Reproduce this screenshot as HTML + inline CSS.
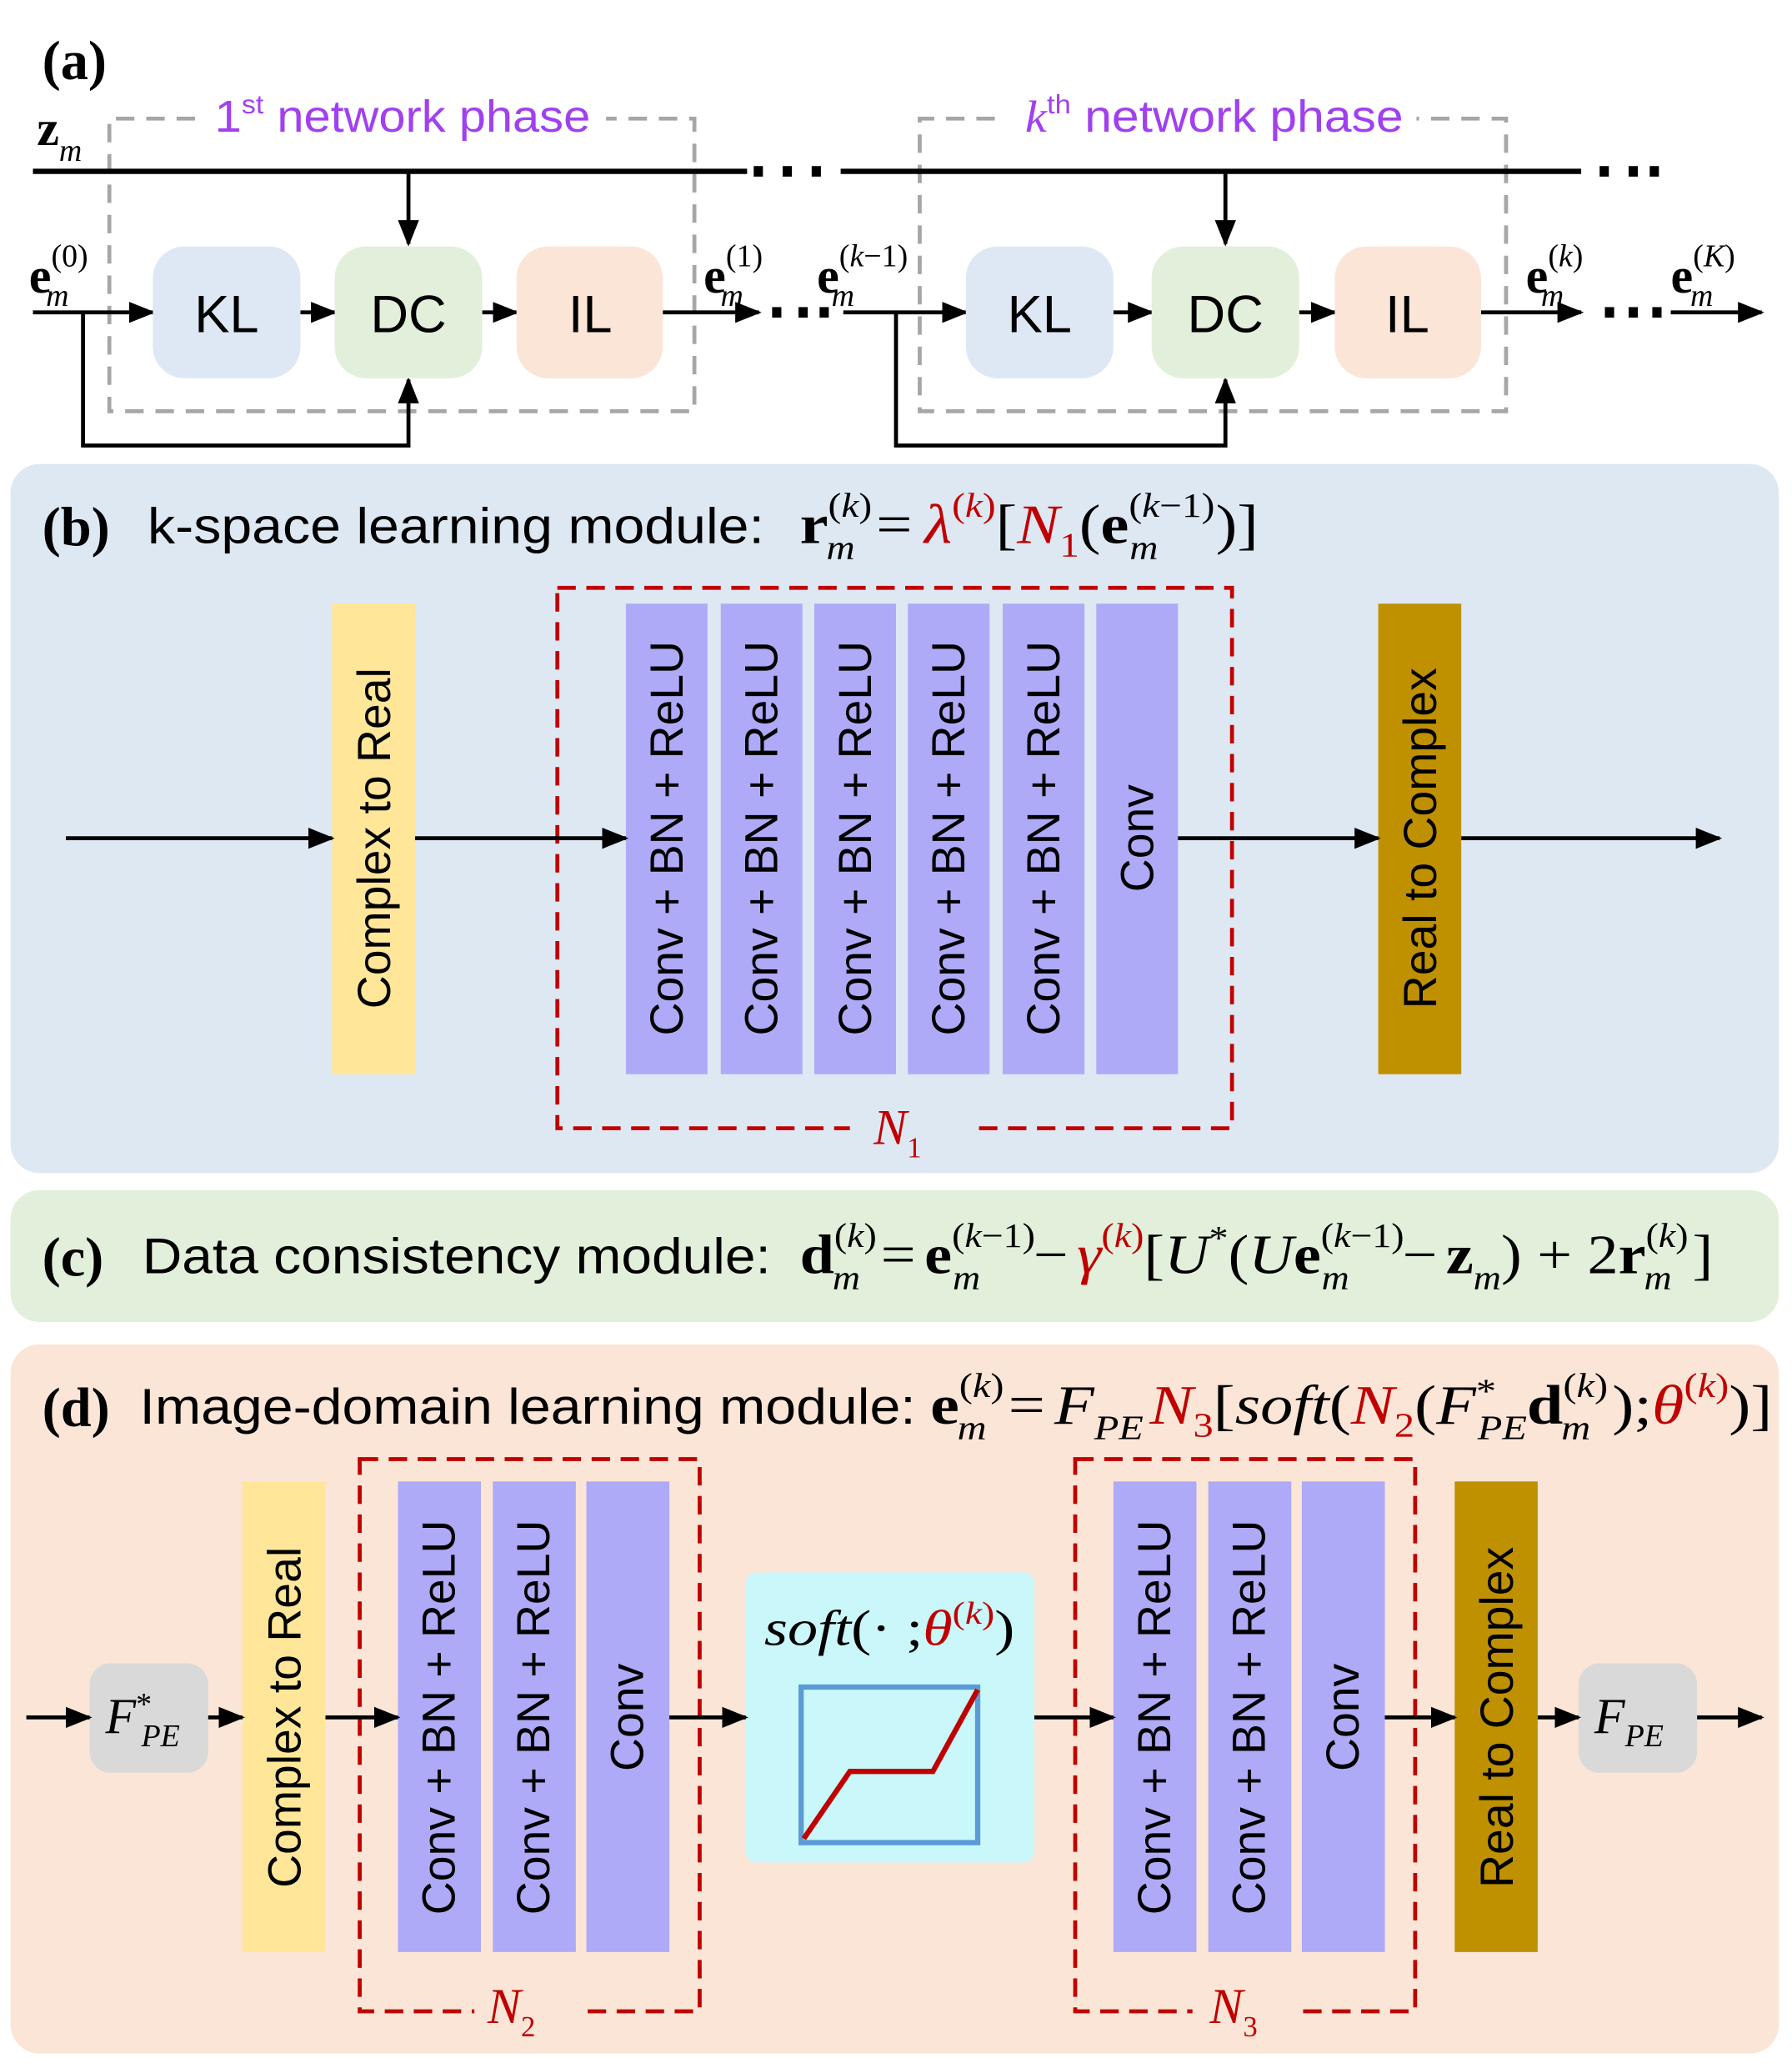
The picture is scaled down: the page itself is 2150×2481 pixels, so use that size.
<!DOCTYPE html>
<html><head><meta charset="utf-8"><style>
html,body{margin:0;padding:0;background:#fff}
svg{display:block}
.s{font-family:"Liberation Sans",sans-serif}
.r{font-family:"Liberation Serif",serif}
</style></head><body>
<svg width="2150" height="2481" viewBox="0 0 1360 1569" preserveAspectRatio="none" xmlns="http://www.w3.org/2000/svg">
<defs>
<marker id="ab" markerWidth="20" markerHeight="16" refX="18" refY="8" orient="auto" markerUnits="userSpaceOnUse"><path d="M0,0 L20,8 L0,16 Z" fill="#000"/></marker>
</defs>
<!-- (a) -->
<text x="32" y="60" class="r" font-size="42" font-weight="bold">(a)</text>
<g fill="none" stroke="#a6a6a6" stroke-width="3" stroke-dasharray="14,9">
<path d="M148,90 H83 V312 H527 V90 H460"/>
<path d="M755,90 H698 V312 H1143 V90 H1075"/>
</g>
<text x="163" y="100" class="s" font-size="34" fill="#a040f0" textLength="285" lengthAdjust="spacingAndGlyphs">1<tspan font-size="20" dy="-14">st</tspan><tspan dy="14"> network phase</tspan></text>
<text x="778" y="100" class="s" font-size="34" fill="#a040f0" textLength="287" lengthAdjust="spacingAndGlyphs"><tspan class="r" font-style="italic">k</tspan><tspan font-size="20" dy="-14">th</tspan><tspan dy="14"> network phase</tspan></text>
<text x="28" y="110" class="r" font-size="38" font-weight="bold">z<tspan font-size="24" font-style="italic" font-weight="normal" dy="12">m</tspan></text>
<g stroke="#000" stroke-width="4" fill="none">
<path d="M25,130 H567"/><path d="M638,130 H1200"/>
</g>
<g fill="#000">
<rect x="572" y="126" width="7" height="8"/><rect x="594" y="126" width="7" height="8"/><rect x="616" y="126" width="7" height="8"/>
<rect x="1214" y="126" width="7" height="8"/><rect x="1236" y="126" width="7" height="8"/><rect x="1252" y="126" width="7" height="8"/>
<rect x="586" y="233" width="7" height="8"/><rect x="606" y="233" width="7" height="8"/><rect x="622" y="233" width="7" height="8"/>
<rect x="1218" y="233" width="7" height="8"/><rect x="1236" y="233" width="7" height="8"/><rect x="1254" y="233" width="7" height="8"/>
</g>
<g stroke="#000" stroke-width="3" fill="none" marker-end="url(#ab)">
<path d="M310,130 V185"/><path d="M930,130 V185"/>
<path d="M25,237 H116"/><path d="M228,237 H254"/><path d="M366,237 H392"/><path d="M503,237 H576"/>
<path d="M640,237 H733"/><path d="M845,237 H874"/><path d="M986,237 H1013"/><path d="M1124,237 H1200"/>
<path d="M1268,237 H1337"/>
<path d="M63,237 V338 H310 V288"/><path d="M680,237 V338 H930 V288"/>
</g>
<g class="s" font-size="40" text-anchor="middle">
<rect x="116" y="187" width="112" height="100" rx="24" fill="#dde8f4"/><text x="172" y="252">KL</text>
<rect x="254" y="187" width="112" height="100" rx="24" fill="#e2efda"/><text x="310" y="252">DC</text>
<rect x="392" y="187" width="111" height="100" rx="24" fill="#fbe5d6"/><text x="448" y="252">IL</text>
<rect x="733" y="187" width="112" height="100" rx="24" fill="#dde8f4"/><text x="789" y="252">KL</text>
<rect x="874" y="187" width="112" height="100" rx="24" fill="#e2efda"/><text x="930" y="252">DC</text>
<rect x="1013" y="187" width="111" height="100" rx="24" fill="#fbe5d6"/><text x="1068" y="252">IL</text>
</g>
<g class="r" font-size="38" font-weight="bold">
<text x="22" y="222">e<tspan font-size="24" font-weight="normal" dy="-20">(0)</tspan><tspan font-size="24" font-style="italic" font-weight="normal" dx="-32" dy="30">m</tspan></text>
<text x="534" y="222">e<tspan font-size="24" font-weight="normal" dy="-20">(1)</tspan><tspan font-size="24" font-style="italic" font-weight="normal" dx="-32" dy="30">m</tspan></text>
<text x="620" y="222">e<tspan font-size="24" font-weight="normal" dy="-20">(<tspan font-style="italic">k</tspan>−1)</tspan><tspan font-size="24" font-style="italic" font-weight="normal" dx="-58" dy="30">m</tspan></text>
<text x="1158" y="222">e<tspan font-size="24" font-weight="normal" dy="-20">(<tspan font-style="italic">k</tspan>)</tspan><tspan font-size="24" font-style="italic" font-weight="normal" dx="-32" dy="30">m</tspan></text>
<text x="1268" y="222">e<tspan font-size="24" font-weight="normal" dy="-20">(<tspan font-style="italic">K</tspan>)</tspan><tspan font-size="24" font-style="italic" font-weight="normal" dx="-34" dy="30">m</tspan></text>
</g>
<!-- (b) -->
<rect x="8" y="352" width="1342" height="538" rx="22" fill="#dee8f3"/>
<text x="32" y="414" class="r" font-size="42" font-weight="bold">(b)</text>
<text x="112" y="412" class="s" font-size="38" textLength="468" lengthAdjust="spacingAndGlyphs">k-space learning module:</text>
<text x="607" y="412" class="r" font-size="42" textLength="348" lengthAdjust="spacingAndGlyphs"><tspan font-weight="bold">r</tspan><tspan font-size="26" dy="-20">(<tspan font-style="italic">k</tspan>)</tspan><tspan font-size="26" font-style="italic" dx="-30" dy="32">m</tspan><tspan dx="14" dy="-12">=</tspan><tspan fill="#c00000" font-style="italic" dx="8">λ</tspan><tspan fill="#c00000" font-size="26" dy="-20">(<tspan font-style="italic">k</tspan>)</tspan><tspan dy="20">[</tspan><tspan fill="#c00000" font-style="italic">N</tspan><tspan fill="#c00000" font-size="26" dy="10">1</tspan><tspan dy="-10">(</tspan><tspan font-weight="bold">e</tspan><tspan font-size="26" dy="-20">(<tspan font-style="italic">k</tspan>−1)</tspan><tspan font-size="26" font-style="italic" dx="-56" dy="32">m</tspan><tspan dx="38" dy="-12">)]</tspan></text>
<rect x="252" y="458" width="63" height="357" fill="#ffe699"/>
<rect x="1046" y="458" width="63" height="357" fill="#bf9000"/>
<g fill="#aeaaf7">
<rect x="475" y="458" width="62" height="357"/><rect x="547" y="458" width="62" height="357"/><rect x="618" y="458" width="62" height="357"/>
<rect x="689" y="458" width="62" height="357"/><rect x="761" y="458" width="62" height="357"/><rect x="832" y="458" width="62" height="357"/>
</g>
<rect x="423" y="446" width="512" height="410" fill="none" stroke="#c00000" stroke-width="3" stroke-dasharray="14,8"/>
<rect x="645" y="840" width="90" height="40" fill="#dee8f3"/>
<text x="663" y="868" class="r" font-size="38" font-style="italic" fill="#c00000">N<tspan font-size="22" font-style="normal" dy="10">1</tspan></text>
<g class="s" font-size="35" text-anchor="middle">
<text transform="translate(296,636) rotate(-90)">Complex to Real</text>
<text transform="translate(1090,636) rotate(-90)">Real to Complex</text>
<text transform="translate(518,636) rotate(-90)">Conv + BN + ReLU</text>
<text transform="translate(590,636) rotate(-90)">Conv + BN + ReLU</text>
<text transform="translate(661,636) rotate(-90)">Conv + BN + ReLU</text>
<text transform="translate(732,636) rotate(-90)">Conv + BN + ReLU</text>
<text transform="translate(804,636) rotate(-90)">Conv + BN + ReLU</text>
<text transform="translate(875,636) rotate(-90)">Conv</text>
</g>
<g stroke="#000" stroke-width="3" marker-end="url(#ab)">
<path d="M50,636 H252"/><path d="M315,636 H475"/><path d="M894,636 H1046"/><path d="M1109,636 H1305"/>
</g>
<!-- (c) -->
<rect x="8" y="903" width="1342" height="100" rx="22" fill="#e2efda"/>
<text x="32" y="968" class="r" font-size="42" font-weight="bold">(c)</text>
<text x="108" y="966" class="s" font-size="38" textLength="477" lengthAdjust="spacingAndGlyphs">Data consistency module:</text>
<text x="607" y="966" class="r" font-size="42" textLength="693" lengthAdjust="spacingAndGlyphs"><tspan font-weight="bold">d</tspan><tspan font-size="26" dy="-20">(<tspan font-style="italic">k</tspan>)</tspan><tspan font-size="26" font-style="italic" dx="-30" dy="32">m</tspan><tspan dx="14" dy="-12">=</tspan><tspan font-weight="bold" dx="6">e</tspan><tspan font-size="26" dy="-20">(<tspan font-style="italic">k</tspan>−1)</tspan><tspan font-size="26" font-style="italic" dx="-56" dy="32">m</tspan><tspan dx="36" dy="-12">−</tspan><tspan fill="#c00000" font-style="italic" dx="6">γ</tspan><tspan fill="#c00000" font-size="26" dy="-20">(<tspan font-style="italic">k</tspan>)</tspan><tspan dy="20">[</tspan><tspan font-style="italic">U</tspan><tspan font-size="26" dy="-18">*</tspan><tspan dy="18">(</tspan><tspan font-style="italic">U</tspan><tspan font-weight="bold">e</tspan><tspan font-size="26" dy="-20">(<tspan font-style="italic">k</tspan>−1)</tspan><tspan font-size="26" font-style="italic" dx="-56" dy="32">m</tspan><tspan dx="36" dy="-12">−</tspan><tspan font-weight="bold" dx="6">z</tspan><tspan font-size="26" font-style="italic" dy="12">m</tspan><tspan dy="-12">) + 2</tspan><tspan font-weight="bold">r</tspan><tspan font-size="26" dy="-20">(<tspan font-style="italic">k</tspan>)</tspan><tspan font-size="26" font-style="italic" dx="-30" dy="32">m</tspan><tspan dx="14" dy="-12">]</tspan></text>
<!-- (d) -->
<rect x="8" y="1020" width="1342" height="538" rx="22" fill="#fbe5d6"/>
<text x="32" y="1082" class="r" font-size="42" font-weight="bold">(d)</text>
<text x="106" y="1080" class="s" font-size="38" textLength="589" lengthAdjust="spacingAndGlyphs">Image-domain learning module:</text>
<text x="706" y="1080" class="r" font-size="42" textLength="639" lengthAdjust="spacingAndGlyphs"><tspan font-weight="bold">e</tspan><tspan font-size="26" dy="-20">(<tspan font-style="italic">k</tspan>)</tspan><tspan font-size="26" font-style="italic" dx="-30" dy="32">m</tspan><tspan dx="14" dy="-12">=</tspan><tspan font-style="italic" dx="6">F</tspan><tspan font-size="26" font-style="italic" dy="12">PE</tspan><tspan fill="#c00000" font-style="italic" dy="-12" dx="4">N</tspan><tspan fill="#c00000" font-size="26" dy="10">3</tspan><tspan dy="-10">[</tspan><tspan font-style="italic">soft</tspan>(<tspan fill="#c00000" font-style="italic">N</tspan><tspan fill="#c00000" font-size="26" dy="10">2</tspan><tspan dy="-10">(</tspan><tspan font-style="italic">F</tspan><tspan font-size="26" dy="-16">*</tspan><tspan font-size="26" font-style="italic" dx="-12" dy="28">PE</tspan><tspan font-weight="bold" dy="-12">d</tspan><tspan font-size="26" dy="-20">(<tspan font-style="italic">k</tspan>)</tspan><tspan font-size="26" font-style="italic" dx="-30" dy="32">m</tspan><tspan dx="14" dy="-12">);</tspan><tspan fill="#c00000" font-style="italic">θ</tspan><tspan fill="#c00000" font-size="26" dy="-20">(<tspan font-style="italic">k</tspan>)</tspan><tspan dy="20">)]</tspan></text>
<rect x="68" y="1262" width="90" height="83" rx="16" fill="#d9d9d9"/>
<rect x="1198" y="1262" width="90" height="83" rx="16" fill="#d9d9d9"/>
<text x="80" y="1315" class="r" font-size="38" font-style="italic">F<tspan font-size="24" font-style="normal" dy="-14">*</tspan><tspan font-size="24" dx="-8" dy="24">PE</tspan></text>
<text x="1210" y="1315" class="r" font-size="38" font-style="italic">F<tspan font-size="24" dy="10">PE</tspan></text>
<rect x="184" y="1124" width="63" height="357" fill="#ffe699"/>
<rect x="1104" y="1124" width="63" height="357" fill="#bf9000"/>
<g fill="#aeaaf7">
<rect x="302" y="1124" width="63" height="357"/><rect x="374" y="1124" width="63" height="357"/><rect x="445" y="1124" width="63" height="357"/>
<rect x="845" y="1124" width="63" height="357"/><rect x="917" y="1124" width="63" height="357"/><rect x="988" y="1124" width="63" height="357"/>
</g>
<g fill="none" stroke="#c00000" stroke-width="3" stroke-dasharray="14,8">
<rect x="273" y="1107" width="258" height="419"/><rect x="816" y="1107" width="258" height="419"/>
</g>
<rect x="360" y="1508" width="80" height="40" fill="#fbe5d6"/>
<rect x="905" y="1508" width="80" height="40" fill="#fbe5d6"/>
<text x="370" y="1535" class="r" font-size="38" font-style="italic" fill="#c00000">N<tspan font-size="22" font-style="normal" dy="10">2</tspan></text>
<text x="918" y="1535" class="r" font-size="38" font-style="italic" fill="#c00000">N<tspan font-size="22" font-style="normal" dy="10">3</tspan></text>
<g class="s" font-size="35" text-anchor="middle">
<text transform="translate(228,1303) rotate(-90)">Complex to Real</text>
<text transform="translate(1148,1303) rotate(-90)">Real to Complex</text>
<text transform="translate(345,1303) rotate(-90)">Conv + BN + ReLU</text>
<text transform="translate(417,1303) rotate(-90)">Conv + BN + ReLU</text>
<text transform="translate(488,1303) rotate(-90)">Conv</text>
<text transform="translate(888,1303) rotate(-90)">Conv + BN + ReLU</text>
<text transform="translate(960,1303) rotate(-90)">Conv + BN + ReLU</text>
<text transform="translate(1031,1303) rotate(-90)">Conv</text>
</g>
<rect x="566" y="1193" width="219" height="220" rx="8" fill="#c9f7fa"/>
<text x="580" y="1248" class="r" font-size="38" textLength="190" lengthAdjust="spacingAndGlyphs"><tspan font-style="italic">soft</tspan>(· ;<tspan fill="#c00000" font-style="italic">θ</tspan><tspan fill="#c00000" font-size="24" dy="-16">(<tspan font-style="italic">k</tspan>)</tspan><tspan dy="16">)</tspan></text>
<rect x="608" y="1280" width="134" height="118" fill="none" stroke="#5b9bd5" stroke-width="4"/>
<path d="M610,1395 L645,1344 L708,1344 L742,1282" fill="none" stroke="#c00000" stroke-width="4"/>
<g stroke="#000" stroke-width="3" marker-end="url(#ab)">
<path d="M20,1303 H68"/><path d="M158,1303 H184"/><path d="M247,1303 H302"/><path d="M508,1303 H566"/>
<path d="M785,1303 H845"/><path d="M1051,1303 H1104"/><path d="M1167,1303 H1198"/><path d="M1288,1303 H1337"/>
</g>
</svg>
</body></html>
